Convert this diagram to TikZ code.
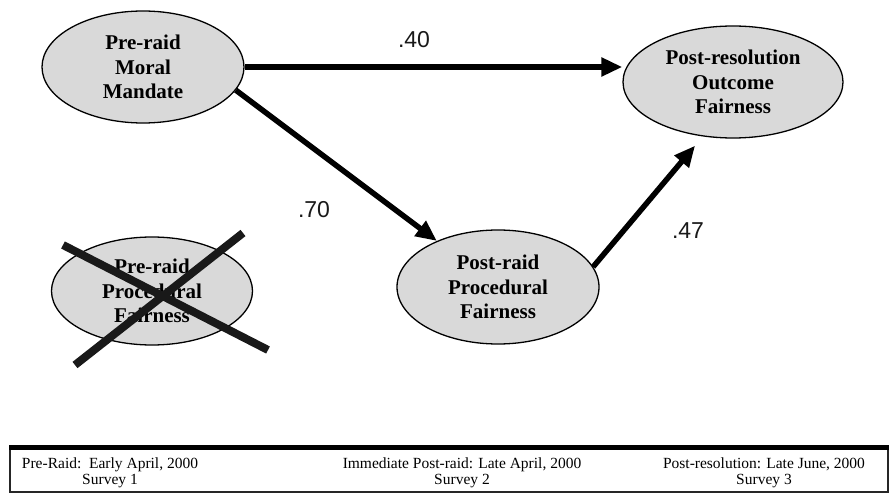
\documentclass[tikz,border=0pt]{standalone}
\usepackage{fontspec}
\setmainfont{Liberation Serif}
\newfontfamily\labfont{Liberation Sans}
\usetikzlibrary{shapes.geometric,arrows.meta,calc}
\definecolor{ovalgray}{HTML}{D9D9D9}
\tikzset{
  oval/.style={ellipse, draw=black, line width=1.3pt, fill=ovalgray, inner sep=0pt,
    align=center, font=\bfseries\fontsize{21}{24.5}\selectfont},
  arr/.style={line width=5.5pt, -{Triangle[length=21pt,width=18pt]}},
  coef/.style={font=\labfont\fontsize{23}{26}\selectfont, text=black!90},
  crossline/.style={line width=8pt, black!90},
  survey/.style={align=center, font=\fontsize{15.5}{16}\selectfont}
}
\begin{document}
\begin{tikzpicture}[x=1pt,y=-1pt]
\useasboundingbox (0,0) rectangle (891,494);
\fill[white] (0,0) rectangle (891,494);

\node[oval, minimum width=202pt, minimum height=112pt] (moral) at (143,67) {\raisebox{-3pt}{\parbox{100pt}{\centering Pre-raid\\Moral\\Mandate}}};
\node[oval, minimum width=220pt, minimum height=112pt] (outcome) at (733,82) {\raisebox{-2pt}{\parbox{140pt}{\centering Post-resolution\\Outcome\\Fairness}}};
\node[oval, minimum width=201pt, minimum height=108pt] (prep) at (152,291) {Pre-raid\\Procedural\\Fairness};
\node[oval, minimum width=202pt, minimum height=114pt] (postp) at (498,287) {Post-raid\\Procedural\\Fairness};

% crossing out
\draw[crossline] ([shift={(-89,-46)}]prep.center) coordinate (c1a) -- ([shift={(116,59)}]prep.center) coordinate (c1b);
\draw[crossline] ([shift={(-77,74)}]prep.center) coordinate (c2a) -- ([shift={(91,-58)}]prep.center) coordinate (c2b);

% paths
\draw[arr] (moral.east) -- (moral.east -| outcome.west);
\draw[arr] (moral.-14) -- (postp.143.6);
\draw[arr, shorten >=12pt] (postp.12.3) -- (outcome.241.4);

\node[coef] (l40) at (414,40) {.40};
\node[coef] (l70) at (314,210) {.70};
\node[coef] (l47) at (688,231) {.47};

% timeline box
\draw[line width=1.3pt, black!85] (10,447) rectangle (888,492);
\draw[line width=5pt, black] (9.35,447) -- (888.65,447);
\node[survey] (s1) at (110,473) {Pre-Raid:\ \ Early April, 2000\\Survey 1};
\node[survey] (s2) at (462,473) {Immediate Post-raid: Late April, 2000\\Survey 2};
\node[survey] (s3) at (764,473) {Post-resolution: Late June, 2000\\Survey 3};
\end{tikzpicture}
\end{document}
